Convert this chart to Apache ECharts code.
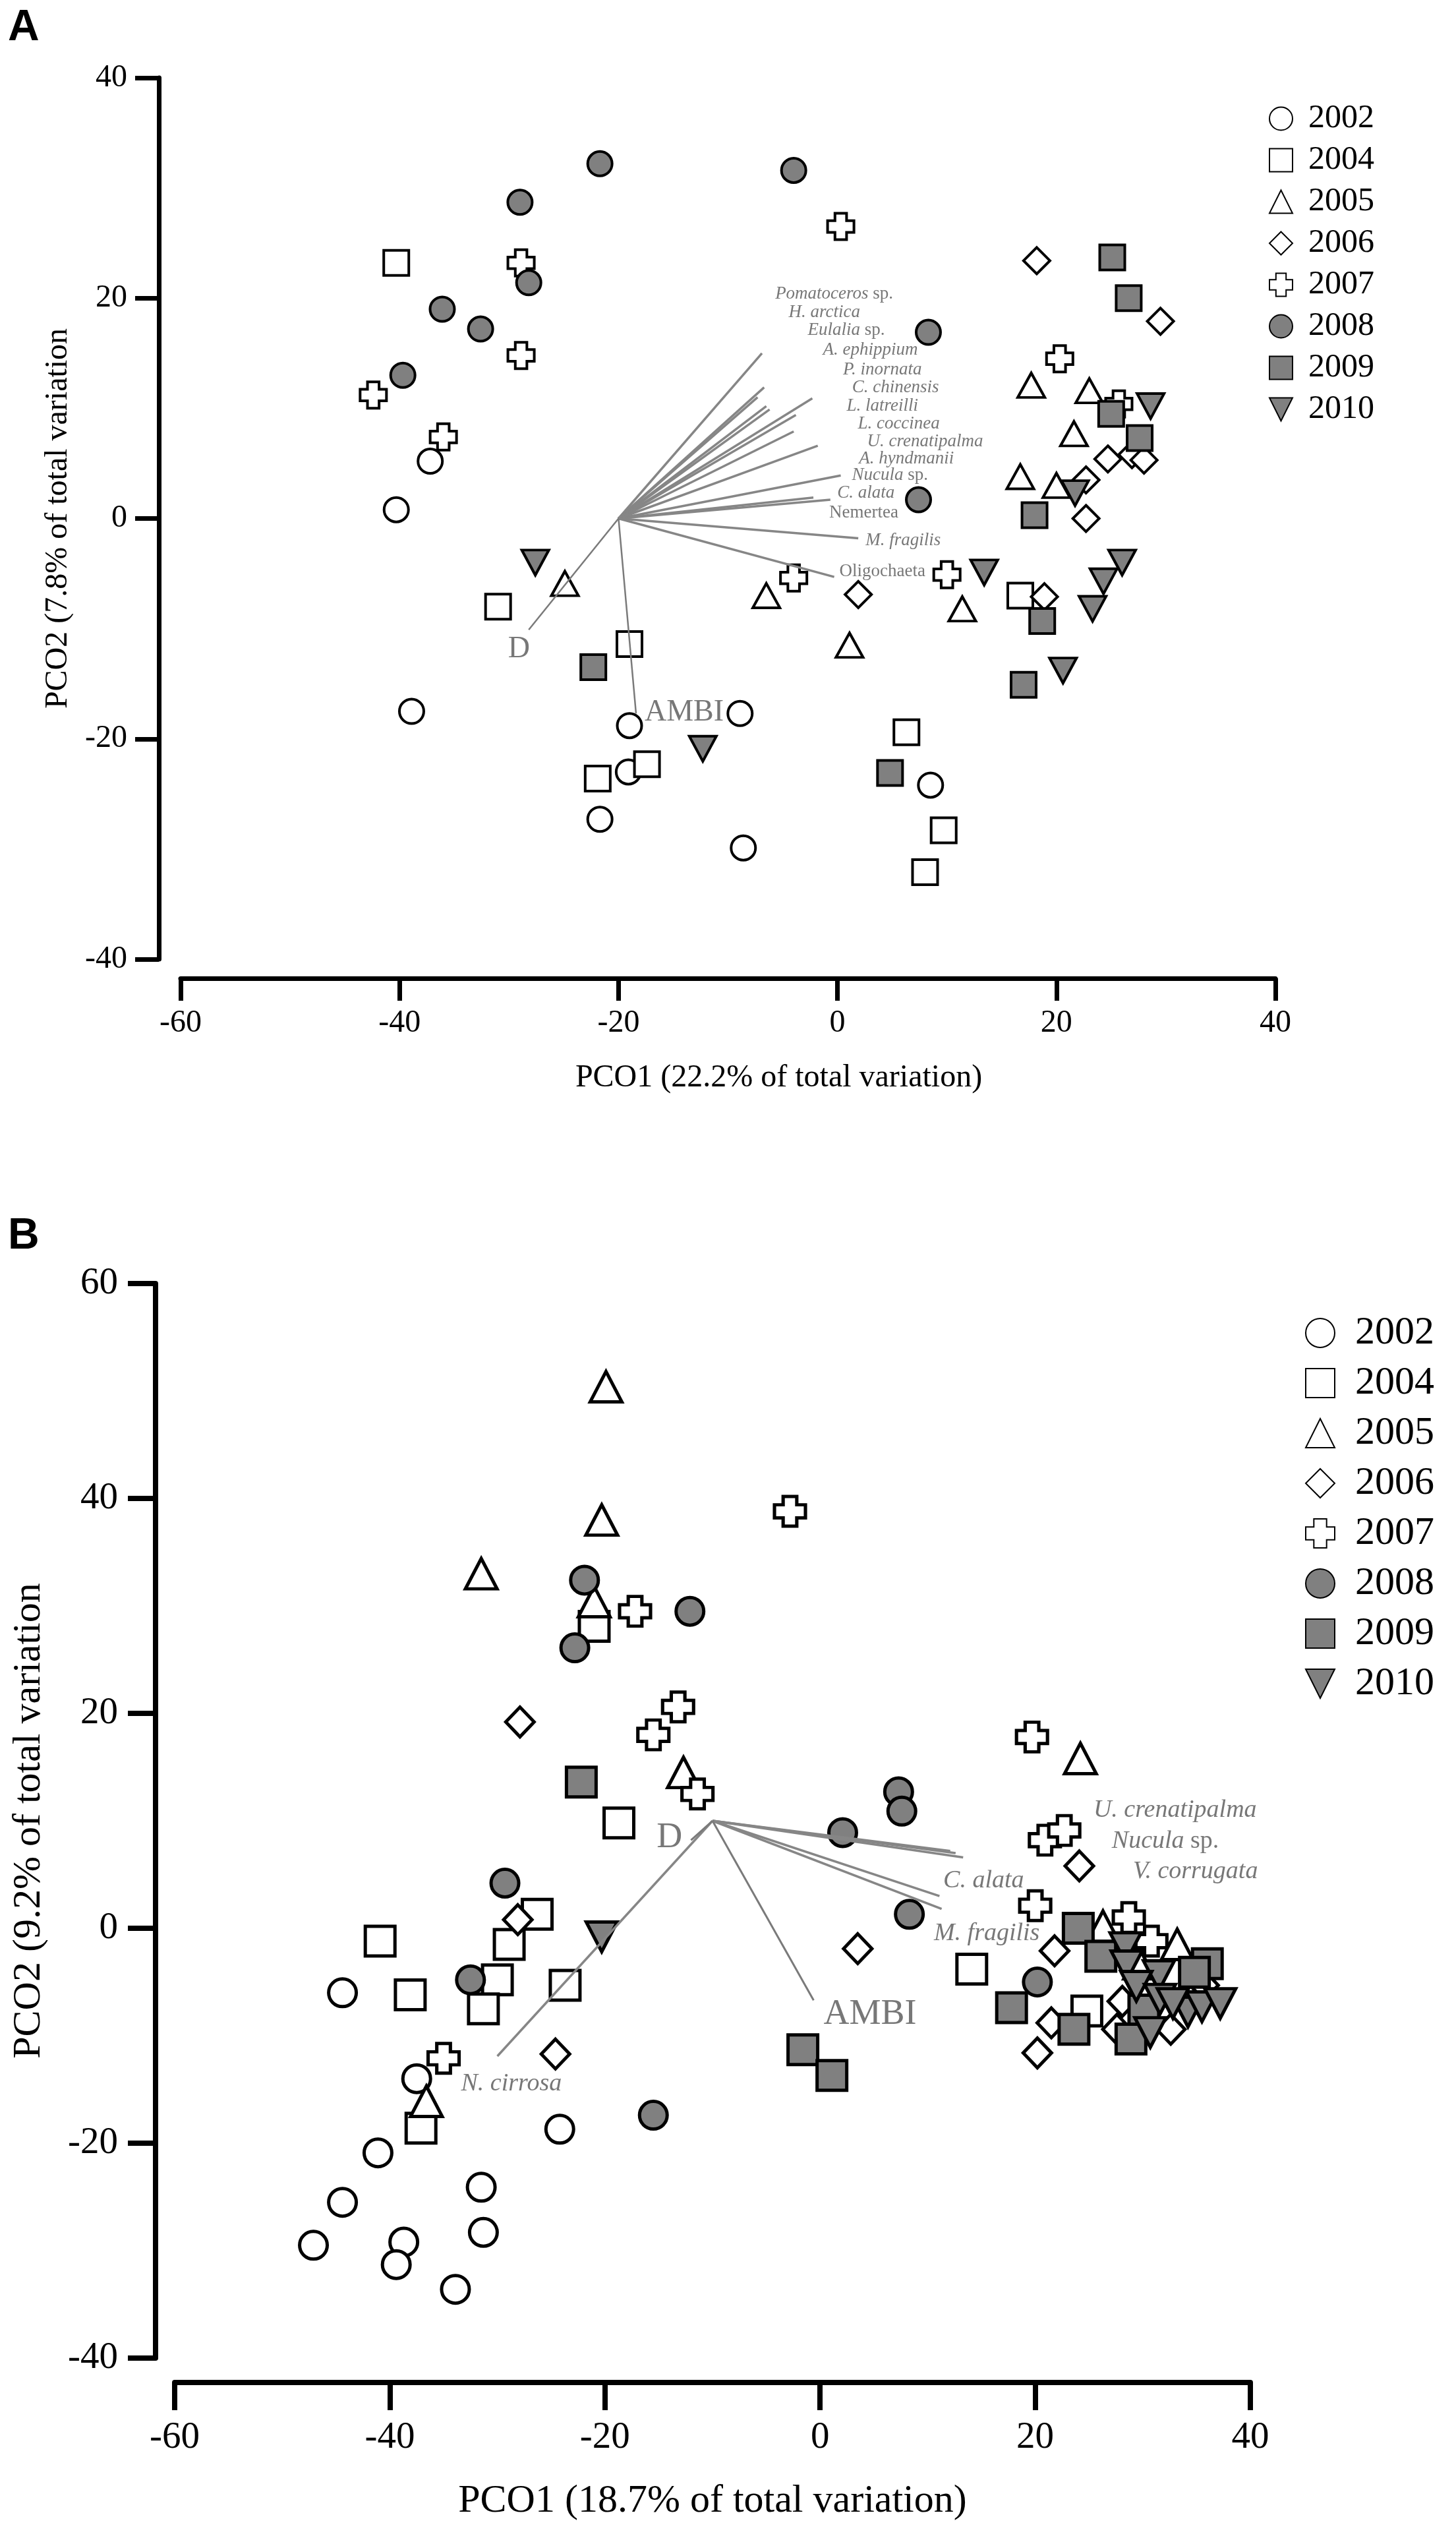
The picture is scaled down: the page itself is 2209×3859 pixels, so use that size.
<!DOCTYPE html>
<html>
<head>
<meta charset="utf-8">
<script src="https://cdn.jsdelivr.net/npm/echarts@6/dist/echarts.min.js"></script>
<style>
  html, body { margin: 0; padding: 0; background: #fff; }
  #main { width: 2209px; height: 3859px; }
</style>
</head>
<body>
<div id="main"></div>
<script>
// years shown in both panels
var years = ['2002', '2004', '2005', '2006', '2007', '2008', '2009', '2010'];

// panel A sample scores (PCO1, PCO2)
var a2002 = [[-37.2, 5.2], [-40.3, 0.8], [-38.9, -17.5], [-19.0, -18.8], [-19.1, -23.0], [-21.7, -27.3], [-8.9, -17.7], [-8.6, -29.9], [8.5, -24.2]];
var a2004 = [[-40.3, 23.2], [-31.0, -8.0], [-19.0, -11.4], [-17.4, -22.3], [-21.9, -23.6], [6.3, -19.4], [9.7, -28.3], [8.0, -32.1], [16.7, -7.0]];
var a2005 = [[-24.9, -5.9], [-6.5, -7.0], [1.1, -11.5], [11.4, -8.2], [17.7, 12.1], [23.0, 11.6], [21.6, 7.7], [16.7, 3.8], [20.0, 3.0]];
var a2006 = [[18.2, 23.4], [29.5, 17.9], [1.9, -6.9], [18.9, -7.1], [24.7, 5.4], [26.9, 5.8], [28.0, 5.3], [22.7, 3.5], [22.7, 0.0]];
var a2007 = [[0.3, 26.5], [-28.9, 23.2], [-28.9, 14.8], [-42.4, 11.2], [-36.0, 7.4], [-4.0, -5.4], [10.0, -5.1], [20.3, 14.5], [25.7, 10.4]];
var a2008 = [[-21.7, 32.2], [-29.0, 28.7], [-28.2, 21.4], [-36.1, 19.0], [-32.6, 17.2], [-39.7, 13.0], [-4.0, 31.6], [8.3, 16.9], [7.4, 1.7]];
var a2009 = [[25.1, 23.7], [26.6, 20.0], [25.0, 9.5], [27.6, 7.3], [18.0, 0.3], [18.7, -9.3], [17.0, -15.1], [-22.3, -13.5], [4.8, -23.1]];
var a2010 = [[-27.6, -4.0], [-12.3, -20.9], [13.4, -4.9], [26.0, -4.0], [24.3, -5.7], [23.3, -8.2], [20.6, -13.8], [28.6, 10.2], [21.7, 2.3]];

// panel B sample scores
var b2002 = [[-44.4, -6.0], [-37.5, -14.0], [-24.2, -18.7], [-41.1, -20.9], [-31.5, -24.1], [-44.4, -25.5], [-31.3, -28.3], [-47.1, -29.5], [-38.7, -29.2], [-39.4, -31.3], [-33.9, -33.6]];
var b2004 = [[-21.0, 28.1], [-18.7, 9.8], [-26.3, 1.3], [-40.9, -1.2], [-28.9, -1.5], [-30.0, -4.8], [-23.7, -5.3], [-38.1, -6.2], [-31.3, -7.5], [-37.1, -18.6], [14.1, -3.8], [24.8, -7.7]];
var b2005 = [[-19.9, 50.4], [-20.3, 38.0], [-31.5, 33.0], [-21.0, 30.4], [-12.7, 14.5], [-36.6, -16.1], [24.2, 15.8], [26.3, 0.2], [33.2, -1.5], [29.7, -3.3]];
var b2006 = [[-27.9, 19.2], [-28.1, 0.8], [-24.6, -11.7], [3.5, -1.9], [24.1, 5.8], [21.8, -2.1], [35.7, -5.3], [21.5, -8.8], [20.2, -11.6], [27.6, -9.4], [28.1, -6.8], [32.6, -9.4]];
var b2007 = [[-2.8, 38.8], [-17.2, 29.5], [-13.2, 20.6], [-15.5, 18.0], [-11.4, 12.5], [-35.0, -12.1], [19.7, 17.8], [20.9, 8.2], [22.7, 9.1], [20.0, 2.1], [28.7, 1.0], [30.8, -1.2]];
var b2008 = [[-21.9, 32.4], [-12.1, 29.5], [-22.8, 26.1], [-29.3, 4.2], [-32.5, -4.8], [-15.5, -17.4], [7.3, 12.7], [7.6, 10.9], [2.1, 8.9], [8.3, 1.3], [20.2, -5.0]];
var b2009 = [[-22.2, 13.6], [-1.6, -11.3], [1.1, -13.7], [17.8, -7.4], [24.0, 0.0], [26.1, -2.6], [36.0, -3.3], [34.8, -4.1], [30.1, -7.6], [28.9, -10.3], [23.6, -9.4]];
var b2010 = [[-20.3, -0.8], [28.4, -1.8], [28.5, -3.5], [31.5, -4.4], [29.4, -5.4], [31.6, -6.6], [34.2, -7.8], [35.5, -7.3], [37.2, -7.0], [32.8, -7.0], [30.7, -9.7]];

// vector overlay, panel A
var originA = [-20, 0];
var vecA = [[-6.9, 15.0], [-6.7, 11.9], [-7.3, 11.0], [-6.5, 10.2], [-6.2, 9.9], [-2.3, 10.9], [-3.8, 9.4], [-4.0, 7.9], [-1.8, 6.6], [0.3, 3.9], [-2.2, 1.9], [-0.65, 1.7], [1.9, -1.8], [-0.3, -5.3]];
var speciesA = ['Pomatoceros sp.', 'H. arctica', 'Eulalia sp.', 'A. ephippium', 'P. inornata', 'C. chinensis', 'L. latreilli', 'L. coccinea', 'U. crenatipalma', 'A. hyndmanii', 'Nucula sp.', 'C. alata', 'Nemertea', 'M. fragilis', 'Oligochaeta'];
var speciesPosA = [[-0.3, 20.4], [-1.2, 18.7], [0.8, 17.1], [3.0, 15.3], [4.1, 13.5], [5.3, 11.9], [4.1, 10.2], [5.6, 8.6], [8.0, 7.0], [6.3, 5.4], [4.8, 3.9], [2.6, 2.3], [2.4, 0.5], [6.0, -2.0], [4.1, -4.8]];
var indexA = ['D', 'AMBI'];
var indexVecA = [[-28.2, -10.1], [-18.4, -17.7]];
var indexPosA = [[-29.1, -11.9], [-14.0, -17.6]];

// vector overlay, panel B
var originB = [-10, 10];
var vecB = [[12.1, 7.2], [12.6, 7.0], [13.3, 6.6], [11.1, 3.0], [11.3, 1.8], [-30.0, -11.9]];
var speciesB = ['U. crenatipalma', 'Nucula sp.', 'V. corrugata', 'C. alata', 'M. fragilis', 'N. cirrosa'];
var speciesPosB = [[33.0, 11.0], [32.1, 8.1], [34.9, 5.3], [15.2, 4.4], [15.5, -0.5], [-28.7, -14.5]];
var indexB = ['D', 'AMBI'];
var indexVecB = [[-12.0, 8.2], [-0.6, -6.7]];
var indexPosB = [[-14.0, 8.4], [4.65, -8.0]];

var dataA = [a2002, a2004, a2005, a2006, a2007, a2008, a2009, a2010];
var dataB = [b2002, b2004, b2005, b2006, b2007, b2008, b2009, b2010];

var serif = '"Liberation Serif", "Times New Roman", serif';
var grey = '#808080';
var cross = 'path://M2.8,0H7.2V2.8H10V7.2H7.2V10H2.8V7.2H0V2.8H2.8Z';
var downTri = 'path://M0,0H10L5,10Z';
var plainNames = ['Nemertea', 'Oligochaeta'];

// marker look per year: symbol, fill, size index
var looks = [
  { symbol: 'circle', fill: '#fff', k: 0 },
  { symbol: 'rect', fill: '#fff', k: 1 },
  { symbol: 'triangle', fill: '#fff', k: 2 },
  { symbol: 'diamond', fill: '#fff', k: 3 },
  { symbol: cross, fill: '#fff', k: 4 },
  { symbol: 'circle', fill: grey, k: 0 },
  { symbol: 'rect', fill: grey, k: 1 },
  { symbol: downTri, fill: grey, k: 5 }
];
var sizesA = [37, 38, [41, 37], 40, 40, [41, 38]];
var sizesB = [42, 45, [48, 46], [43, 45], [47, 45], [47, 45]];

function fmtSpecies(n) {
  if (plainNames.indexOf(n) >= 0) return '{r|' + n + '}';
  if (n.slice(-4) === ' sp.') return '{i|' + n.slice(0, -4) + '}{r| sp.}';
  return '{i|' + n + '}';
}

function scatterSeries(all, idx, sizes, bw) {
  return all.map(function (d, i) {
    var lk = looks[i];
    return {
      name: years[i],
      type: 'scatter',
      xAxisIndex: idx, yAxisIndex: idx,
      data: d,
      symbol: lk.symbol,
      symbolSize: sizes[lk.k],
      itemStyle: { color: lk.fill, borderColor: '#000', borderWidth: bw, opacity: 1 },
      z: 2
    };
  });
}

function vectorSeries(origin, ends, idx, width, color) {
  return {
    type: 'lines',
    coordinateSystem: 'cartesian2d',
    xAxisIndex: idx, yAxisIndex: idx,
    silent: true,
    data: ends.map(function (e) { return { coords: [origin, e] }; }),
    lineStyle: { color: color, width: width, opacity: 1 },
    z: 3
  };
}

function labelSeries(names, pos, idx, size, italicNames) {
  return {
    type: 'scatter',
    xAxisIndex: idx, yAxisIndex: idx,
    silent: true,
    symbolSize: 1,
    itemStyle: { color: 'rgba(0,0,0,0)' },
    data: names.map(function (n, i) { return { name: n, value: pos[i] }; }),
    label: {
      show: true,
      position: 'inside',
      formatter: function (p) { return italicNames ? fmtSpecies(p.name) : '{r|' + p.name + '}'; },
      rich: {
        i: { fontFamily: serif, fontStyle: 'italic', fontSize: size, color: '#555' },
        r: { fontFamily: serif, fontSize: size, color: '#555' }
      }
    },
    z: 4
  };
}

function axisBase(size, tickLen, w, margin) {
  return {
    type: 'value',
    interval: 20,
    axisLine: { onZero: false, lineStyle: { color: '#000', width: w } },
    axisTick: { length: tickLen, lineStyle: { color: '#000', width: w } },
    axisLabel: { fontFamily: serif, fontSize: size, color: '#000', margin: margin },
    splitLine: { show: false }
  };
}

var xA = Object.assign(axisBase(48, 34, 7, 44), {
  gridIndex: 0, min: -60, max: 40, offset: 29,
  name: 'PCO1 (22.2% of total variation)', nameLocation: 'middle', nameGap: 127,
  nameTextStyle: { fontFamily: serif, fontSize: 48, color: '#000', padding: [0, 0, 0, 154] }
});
var yA = Object.assign(axisBase(48, 36, 7, 48), {
  gridIndex: 0, min: -40, max: 40, offset: 33,
  name: 'PCO2 (7.8% of total variation', nameLocation: 'middle', nameGap: 129,
  nameTextStyle: { fontFamily: serif, fontSize: 48, color: '#000' }
});
var xB = Object.assign(axisBase(57, 42, 8, 56), {
  gridIndex: 1, min: -60, max: 40, offset: 37,
  name: 'PCO1 (18.7% of total variation)', nameLocation: 'middle', nameGap: 150,
  nameTextStyle: { fontFamily: serif, fontSize: 60, color: '#000' }
});
var yB = Object.assign(axisBase(57, 42, 8, 57), {
  gridIndex: 1, min: -40, max: 60, offset: 29,
  name: 'PCO2 (9.2% of total variation', nameLocation: 'middle', nameGap: 162,
  nameTextStyle: { fontFamily: serif, fontSize: 60, color: '#000' }
});

var series = []
  .concat(scatterSeries(dataA, 0, sizesA, 4))
  .concat(scatterSeries(dataB, 1, sizesB, 5))
  .concat([
    vectorSeries(originA, vecA, 0, 3.5, '#868686'),
    vectorSeries(originA, indexVecA, 0, 2.5, '#7a7a7a'),
    vectorSeries(originB, vecB, 1, 3.5, '#868686'),
    vectorSeries(originB, indexVecB, 1, 3, '#7a7a7a'),
    labelSeries(speciesA, speciesPosA, 0, 27, true),
    labelSeries(indexA, indexPosA, 0, 46, false),
    labelSeries(speciesB, speciesPosB, 1, 38, true),
    labelSeries(indexB, indexPosB, 1, 54, false)
  ]);

var chart = echarts.init(document.getElementById('main'));
chart.setOption({
  backgroundColor: '#fff',
  animation: false,
  grid: [
    { left: 274, top: 118, width: 1661, height: 1337 },
    { left: 265, top: 1947, width: 1632, height: 1630 }
  ],
  xAxis: [xA, xB],
  yAxis: [yA, yB],
  legend: [
    {
      data: years, orient: 'vertical', left: 1925, top: 155, padding: 0,
      itemWidth: 35, itemHeight: 35, itemGap: 13, selectedMode: false,
      textStyle: { fontFamily: serif, fontSize: 50, color: '#000', lineHeight: 40, padding: [0, 0, 0, 19] }
    },
    {
      data: years, orient: 'vertical', left: 1980, top: 1992, padding: 0,
      itemWidth: 44, itemHeight: 44, itemGap: 16, selectedMode: false,
      textStyle: { fontFamily: serif, fontSize: 60, color: '#000', lineHeight: 50, padding: [0, 0, 0, 26] }
    }
  ],
  graphic: [
    { type: 'text', left: 12, top: 10, style: { text: 'A', font: 'bold 66px "Liberation Sans", Arial, sans-serif', fill: '#000' } },
    { type: 'text', left: 12, top: 1843, style: { text: 'B', font: 'bold 66px "Liberation Sans", Arial, sans-serif', fill: '#000' } }
  ],
  series: series
});
</script>
</body>
</html>
